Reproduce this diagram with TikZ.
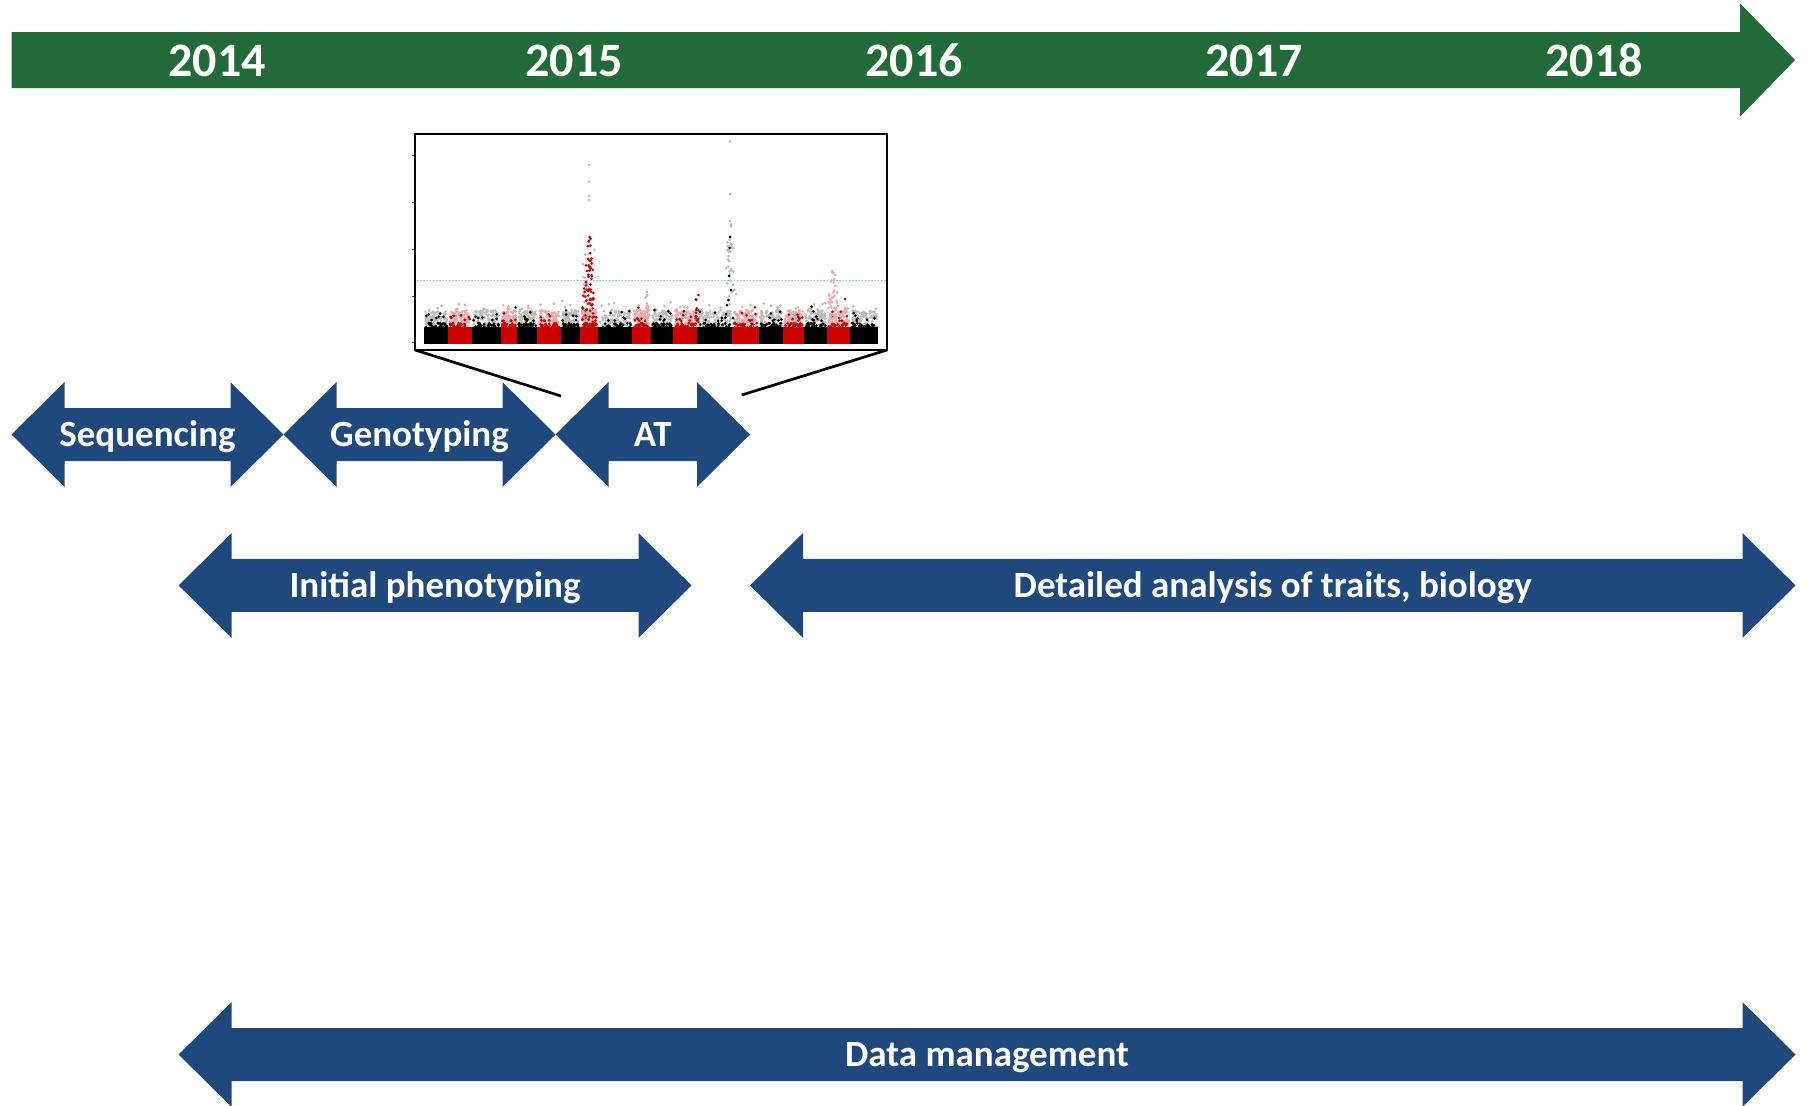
\documentclass[tikz,border=0pt]{standalone}
\usepackage{fontspec}
\setmainfont{Carlito}
\definecolor{tlgreen}{HTML}{226A38}
\definecolor{tlblue}{HTML}{1F497D}
\definecolor{mred}{HTML}{CC0000}
\definecolor{mpink}{HTML}{F0AAAA}
\definecolor{mgrey}{HTML}{BBBBBB}
\definecolor{mthr}{HTML}{7FD4F5}
\tikzset{
  yearlbl/.style={text=white, font=\fontsize{24}{28}\selectfont\bfseries, anchor=base, inner sep=0pt},
  barlbl/.style={text=white, font=\fontsize{18.5}{22}\selectfont\bfseries, anchor=base, inner sep=0pt},
  dblarrow/.style={fill=tlblue},
  zoomline/.style={line width=1.35pt, black},
  plotbox/.style={line width=1pt, black}
}
\newcommand{\dblarr}[3]{%
  \fill[dblarrow] (#1,#3) -- ({#1+53},{#3-52.4}) -- ({#1+53},{#3-26.5}) -- ({#2-53},{#3-26.5}) -- ({#2-53},{#3-52.4}) -- (#2,#3) -- ({#2-53},{#3+52.4}) -- ({#2-53},{#3+26.5}) -- ({#1+53},{#3+26.5}) -- ({#1+53},{#3+52.4}) -- cycle;}
\begin{document}
\begin{tikzpicture}[x=0.5pt,y=-0.5pt]
\useasboundingbox (0,0) rectangle (1807,1105);
% timeline
\fill[tlgreen] (11.5,32) -- (1740,32) -- (1740,3.3) -- (1795,60) -- (1740,116.7) -- (1740,88) -- (11.5,88) -- cycle;
\node[yearlbl] (y2014) at (217,76) {2014};
\node[yearlbl] (y2015) at (574,76) {2015};
\node[yearlbl] (y2016) at (914,76) {2016};
\node[yearlbl] (y2017) at (1254,76) {2017};
\node[yearlbl] (y2018) at (1594,76) {2018};
% task arrows
\dblarr{11.5}{283.5}{434.5}
\dblarr{283.5}{555.5}{434.5}
\dblarr{555.5}{750}{434.5}
\dblarr{178.6}{691.5}{585.4}
\dblarr{750}{1795.5}{585.4}
\dblarr{178.6}{1795.5}{1054.5}
\node[barlbl] (seq) at (147.5,446.5) {Sequencing};
\node[barlbl] (geno) at (419.5,446.5) {Genotyping};
\node[barlbl] (at) at (652.7,446.5) {AT};
\node[barlbl] (pheno) at (435,597.4) {Initial phenotyping};
\node[barlbl] (detail) at (1272.7,597.4) {Detailed analysis of traits, biology};
\node[barlbl] (data) at (987,1066.5) {Data management};
% Manhattan plot
\pgfmathsetseed{2718}
\foreach \xa/\xb/\dk/\lt in {424/448.3/black/mgrey, 448.3/471.7/mred/mpink, 471.7/500.7/black/mgrey, 500.7/517.3/mred/mpink, 517.3/537.3/black/mgrey, 537.3/560.7/mred/mpink, 560.7/580.3/black/mgrey, 580.3/598.3/mred/mpink, 598.3/632.3/black/mgrey, 632.3/650.7/mred/mpink, 650.7/673.3/black/mgrey, 673.3/697.3/mred/mpink, 697.3/732.3/black/mgrey, 732.3/759/mred/mpink, 759/783.3/black/mgrey, 783.3/804/mred/mpink, 804/827.3/black/mgrey, 827.3/850/mred/mpink, 850/878.3/black/mgrey}{
  \foreach \i in {1,...,90}{
    \pgfmathsetmacro\px{\xa+1.5+rnd*(\xb-\xa-3)}
    \pgfmathsetmacro\py{328-rnd*17-rnd*rnd*rnd*rnd*22}
    \fill[\lt] (\px,\py) circle (1.5);
  }
  \fill[\dk] (\xa,327) rectangle (\xb,344);
  \foreach \i in {1,...,30}{
    \pgfmathsetmacro\px{\xa+1.5+rnd*(\xb-\xa-3)}
    \pgfmathsetmacro\py{328-rnd*5}
    \fill[\dk] (\px,\py) circle (1.5);
  }
  \foreach \i in {1,...,7}{
    \pgfmathsetmacro\px{\xa+1.5+rnd*(\xb-\xa-3)}
    \pgfmathsetmacro\py{321-rnd*rnd*16}
    \fill[\dk] (\px,\py) circle (1.5);
  }
}
% peak chr 8
\foreach \i in {1,...,22}{
  \pgfmathsetmacro\py{250+rnd*70}
  \pgfmathsetmacro\px{589+(rnd-0.5)*12}
  \fill[mpink] (\px,\py) circle (1.5);
}
\foreach \i in {1,...,70}{
  \pgfmathsetmacro\py{237+rnd*95}
  \pgfmathsetmacro\px{589+(rnd-0.5)*(3+(\py-237)/95*14)}
  \fill[mred] (\px,\py) circle (1.5);
}
\foreach \p in {(589,165),(589,181.7),(589,196),(589,200)}{\fill[mpink] \p circle (1.5);}
% peak chr 13
\foreach \i in {1,...,40}{
  \pgfmathsetmacro\py{221+rnd*100}
  \pgfmathsetmacro\px{730+(rnd-0.5)*(2+(\py-221)/100*14)}
  \fill[mgrey] (\px,\py) circle (1.5);
}
\foreach \p in {(730,141.7),(730,194),(730,221)}{\fill[mgrey] \p circle (1.5);}
\foreach \p in {(730,237),(729.5,248),(729,276),(728.5,300),(727,305),(731,290),(726,314),(733,318)}{\fill[black] \p circle (1.5);}
% peak chr 18
\foreach \i in {1,...,30}{
  \pgfmathsetmacro\py{268+rnd*55}
  \pgfmathsetmacro\px{833+(rnd-0.5)*(2+(\py-268)/55*14)}
  \fill[mpink] (\px,\py) circle (1.5);
}
\foreach \p in {(845,299),(839,318)}{\fill[mred] \p circle (1.5);}
% spikes chr 12, chr 10
\foreach \i in {1,...,14}{
  \pgfmathsetmacro\py{293+rnd*35}
  \pgfmathsetmacro\px{697+(rnd-0.5)*3}
  \fill[mred] (\px,\py) circle (1.5);
}
\foreach \i in {1,...,12}{
  \pgfmathsetmacro\py{287+rnd*35}
  \pgfmathsetmacro\px{647+(rnd-0.5)*3}
  \fill[mpink] (\px,\py) circle (1.5);
}
% threshold
\draw[mthr, line width=0.6pt, dash pattern=on 0.8pt off 0.8pt] (417,280.7) -- (886,280.7);
% ticks
\foreach \ty in {155,202,249,296,342.7}{\draw[line width=0.5pt, black!70] (411.5,\ty) -- (415,\ty);}
% box
\coordinate (plotNW) at (415,134);
\coordinate (plotSE) at (887,350);
\coordinate (plotSW) at (415,350);
\draw[plotbox] (plotNW) rectangle (plotSE);
\coordinate (zoomL) at (561,396);
\coordinate (zoomR) at (741.7,395);
\draw[zoomline] (plotSW) -- (zoomL);
\draw[zoomline] (plotSE) -- (zoomR);
\end{tikzpicture}
\end{document}
